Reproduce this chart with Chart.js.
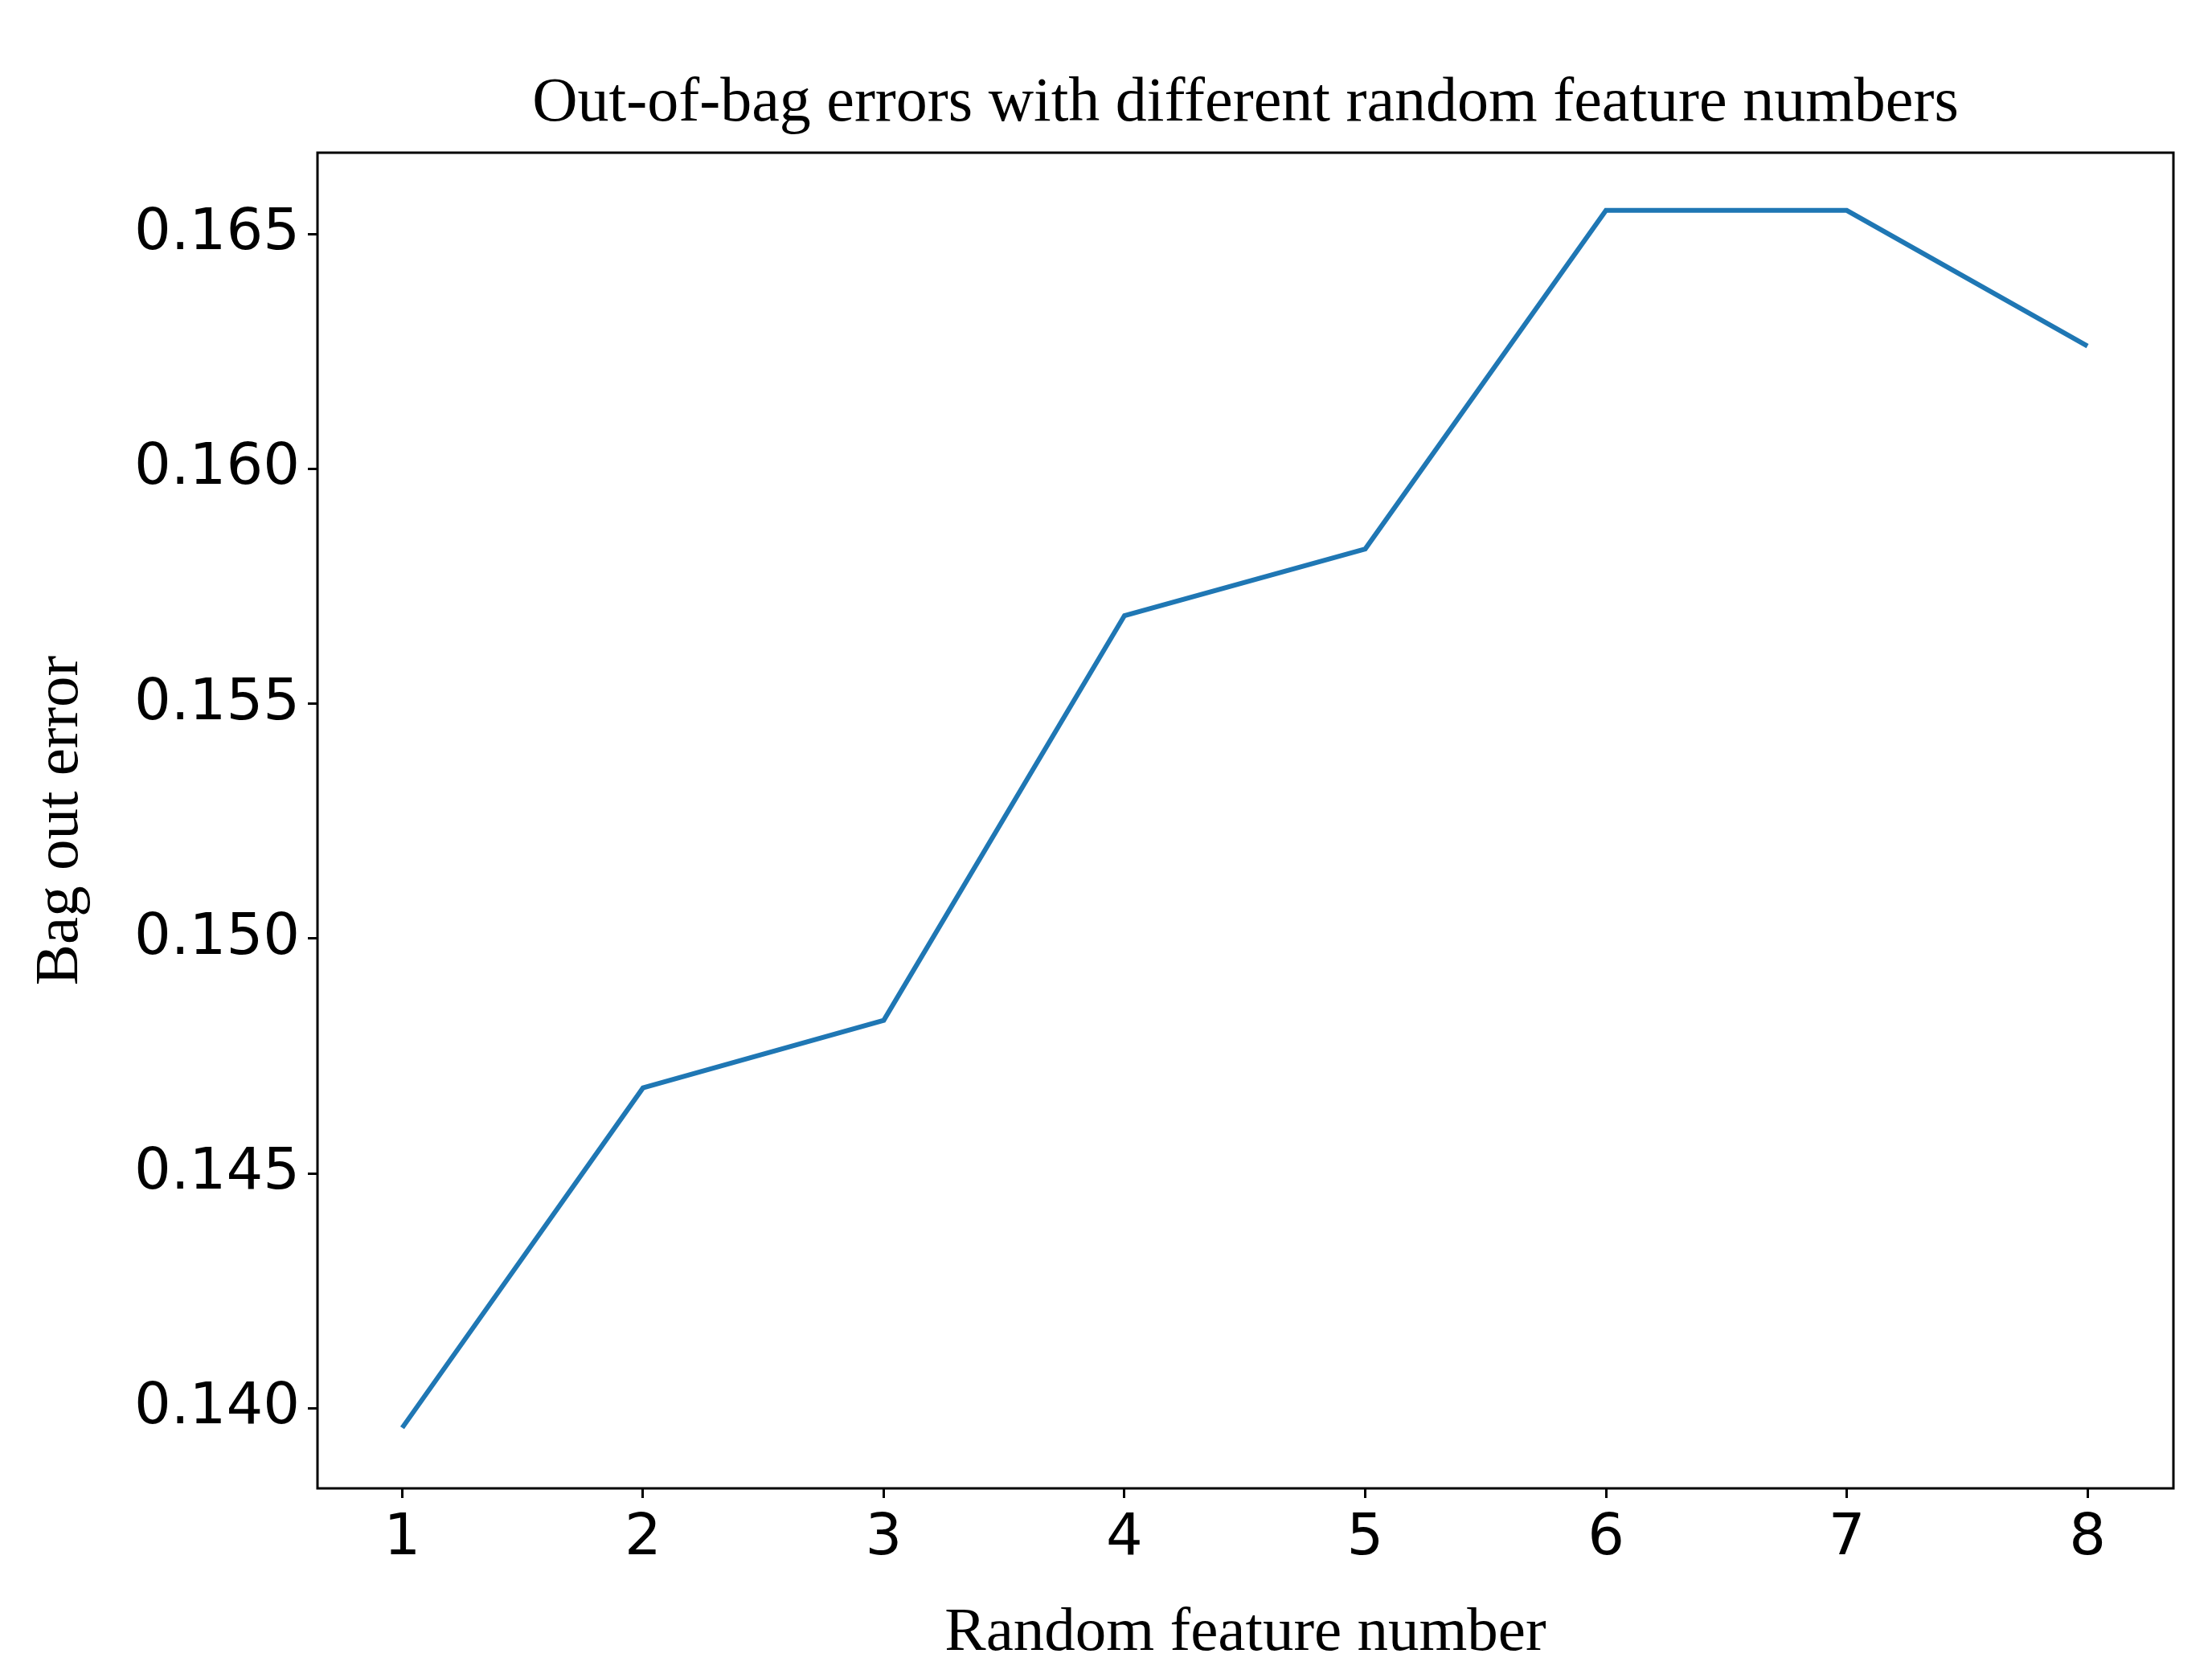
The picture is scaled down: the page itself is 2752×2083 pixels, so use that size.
<!DOCTYPE html>
<html>
<head>
<meta charset="utf-8">
<script src="https://cdn.jsdelivr.net/npm/chart.js@4"></script>
<style>
  html, body { margin: 0; padding: 0; background: #fff; }
  #wrap { width: 2752px; height: 2083px; }
</style>
</head>
<body>
<div id="wrap"><canvas id="chart"></canvas></div>
<script>
const featureNumbers = [1, 2, 3, 4, 5, 6, 7, 8];
const oobErrors = [0.13958, 0.14682, 0.14826, 0.15688, 0.15830, 0.16551, 0.16551, 0.16262];
const xTicks = [1, 2, 3, 4, 5, 6, 7, 8];
const yTicks = [0.140, 0.145, 0.150, 0.155, 0.160, 0.165];

// title + frame around the plot, matplotlib style
const framePlugin = {
    id: 'frame',
    afterDraw(chart) {
        const { ctx, chartArea: a } = chart;
        ctx.save();
        ctx.strokeStyle = '#000';
        ctx.lineWidth = 3;
        ctx.strokeRect(a.left, a.top, a.right - a.left, a.bottom - a.top);
        ctx.fillStyle = '#000';
        ctx.font = "78px 'Liberation Serif', serif";
        ctx.textAlign = 'center';
        ctx.textBaseline = 'alphabetic';
        ctx.fillText('Out-of-bag errors with different random feature numbers', (a.left + a.right) / 2, 150);
        ctx.restore();
    }
};

new Chart(document.getElementById('chart'), {
    type: 'line',
    data: {
        datasets: [{
            data: featureNumbers.map((x, i) => ({ x: x, y: oobErrors[i] })),
            borderColor: '#1f77b4',
            borderWidth: 6,
            pointRadius: 0,
            tension: 0,
        }]
    },
    options: {
        responsive: true,
        maintainAspectRatio: false,
        animation: false,
        layout: { padding: { left: 30, right: 48, top: 190, bottom: 0 } },
        plugins: { legend: { display: false }, tooltip: { enabled: false } },
        scales: {
            x: {
                type: 'linear',
                min: 0.648,
                max: 8.357,
                afterBuildTicks: scale => { scale.ticks = xTicks.map(v => ({ value: v })); },
                afterFit: scale => { scale.height = 231; },
                grid: { drawOnChartArea: false, drawTicks: true, tickLength: 12, color: '#000', lineWidth: 3 },
                border: { display: false },
                ticks: { color: '#000', font: { family: "'DejaVu Sans', sans-serif", size: 72 }, padding: 8, maxRotation: 0 },
                title: { display: true, text: 'Random feature number', color: '#000', font: { family: "'Liberation Serif', serif", size: 77 }, padding: { top: 0 } }
            },
            y: {
                min: 0.13829,
                max: 0.16674,
                afterBuildTicks: scale => { scale.ticks = yTicks.map(v => ({ value: v })); },
                afterFit: scale => { scale.width = 365; },
                grid: { drawOnChartArea: false, drawTicks: true, tickLength: 12, color: '#000', lineWidth: 3 },
                border: { display: false },
                ticks: { color: '#000', font: { family: "'DejaVu Sans', sans-serif", size: 72 }, padding: 10, callback: v => v.toFixed(3) },
                title: { display: true, text: 'Bag out error', color: '#000', font: { family: "'Liberation Serif', serif", size: 77 }, padding: { top: 0, bottom: 6 } }
            }
        }
    },
    plugins: [framePlugin]
});
</script>
</body>
</html>
